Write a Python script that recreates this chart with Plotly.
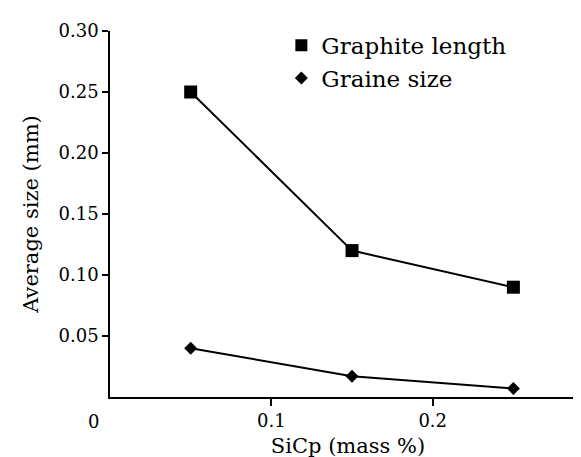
import plotly.graph_objects as go

sicp = [0.05, 0.15, 0.25]
graphite_length = [0.25, 0.12, 0.09]
graine_size = [0.04, 0.017, 0.007]
x_ticks = [0.1, 0.2]
x_ticktext = ["0.1", "0.2"]
y_ticks = [0.05, 0.10, 0.15, 0.20, 0.25, 0.30]
y_ticktext = ["0.05", "0.10", "0.15", "0.20", "0.25", "0.30"]

FONT = "DejaVu Serif"

fig = go.Figure()
fig.add_trace(go.Scatter(
    x=sicp, y=graphite_length, mode="lines+markers", name="Graphite length",
    line=dict(color="black", width=2), showlegend=False,
    marker=dict(symbol="square", size=13, color="black"),
))
fig.add_trace(go.Scatter(
    x=sicp, y=graine_size, mode="lines+markers", name="Graine size",
    line=dict(color="black", width=2), showlegend=False,
    marker=dict(symbol="diamond", size=10, color="black"),
))
# legend entries (marker only, as in the reference)
fig.add_trace(go.Scatter(
    x=[None], y=[None], mode="markers", name="Graphite length",
    marker=dict(symbol="square", size=12, color="black"),
))
fig.add_trace(go.Scatter(
    x=[None], y=[None], mode="markers", name="Graine size",
    marker=dict(symbol="diamond", size=10, color="black"),
))

fig.update_layout(
    width=581, height=457,
    margin=dict(l=102, r=3, t=23, b=68),
    paper_bgcolor="white", plot_bgcolor="white",
    font=dict(family=FONT, size=18, color="black"),
    showlegend=True,
    legend=dict(x=0.36, y=1.02, xanchor="left", yanchor="top",
                bgcolor="rgba(0,0,0,0)",
                font=dict(family=FONT, size=23, color="black"),
                itemwidth=30, tracegroupgap=0),
    xaxis=dict(
        range=[0, 0.295], showgrid=False, zeroline=False,
        showline=True, linecolor="black", linewidth=1.5,
        ticks="outside", ticklen=7, tickwidth=1.5, tickcolor="black",
        tickvals=x_ticks, ticktext=x_ticktext,
        tickfont=dict(family=FONT, size=18, color="black"),
        title=dict(text="SiCp (mass %)", font=dict(family=FONT, size=21, color="black"), standoff=8),
    ),
    yaxis=dict(
        range=[0, 0.30], showgrid=False, zeroline=False,
        showline=True, linecolor="black", linewidth=1.5,
        ticks="outside", ticklen=6, tickwidth=1.5, tickcolor="black",
        tickvals=y_ticks, ticktext=y_ticktext,
        tickfont=dict(family=FONT, size=18, color="black"),
        title=dict(text="Average size (mm)", font=dict(family=FONT, size=21, color="black"), standoff=14),
    ),
)
fig.add_annotation(
    x=0, y=0, xref="x", yref="y", text="0", showarrow=False,
    xanchor="center", yanchor="top", xshift=-17, yshift=-12,
    font=dict(family=FONT, size=18, color="black"),
)

fig.write_html("out.html")
